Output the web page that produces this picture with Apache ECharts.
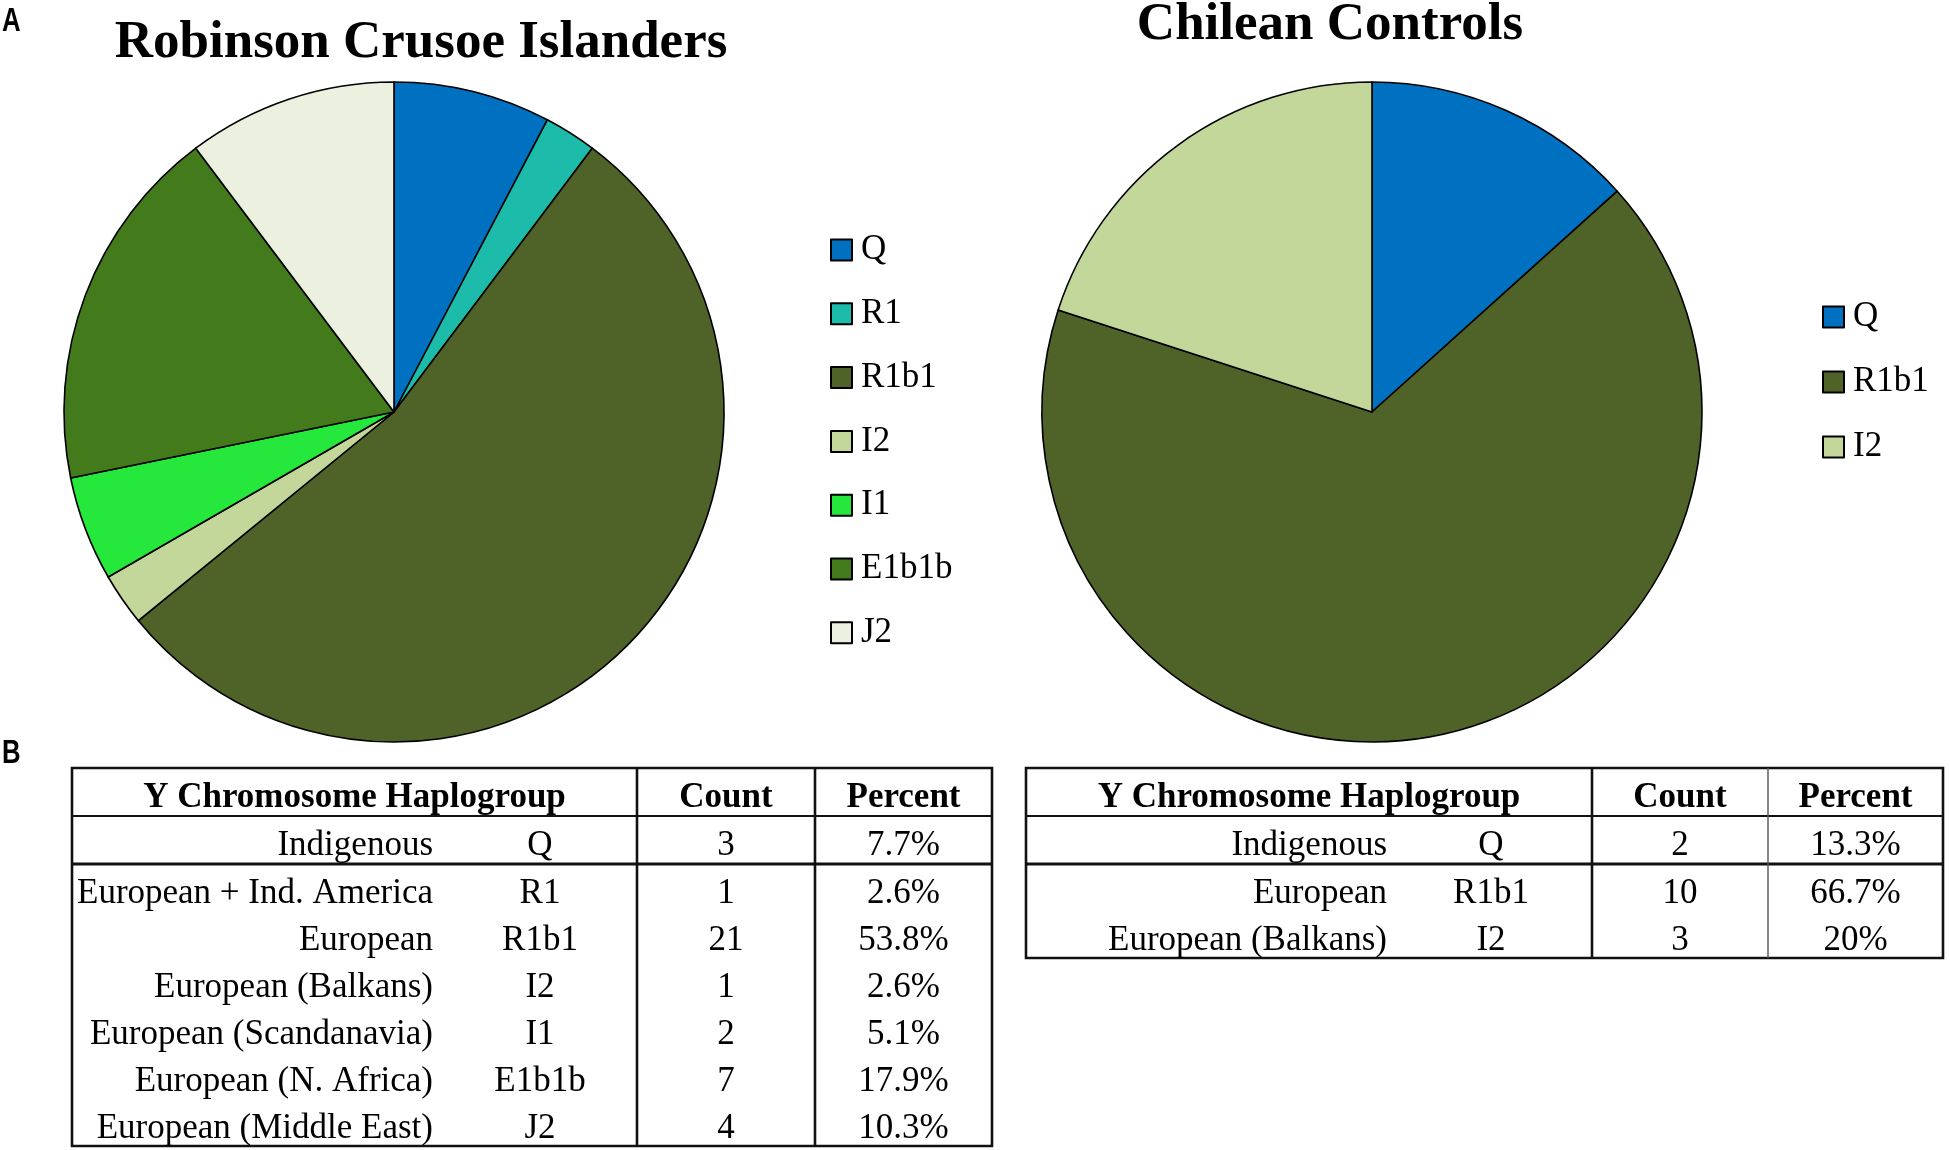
<!DOCTYPE html>
<html>
<head>
<meta charset="utf-8">
<script src="https://cdn.jsdelivr.net/npm/echarts@6/dist/echarts.min.js"></script>
<style>
  html, body { margin: 0; padding: 0; background: #fff; }
  #chart { width: 1950px; height: 1150px; }
</style>
</head>
<body>
<div id="chart"></div>
<script>
// ---------- Data ----------
const rciTitle = 'Robinson Crusoe Islanders';
const ccTitle = 'Chilean Controls';

const rciNames   = ['Q', 'R1', 'R1b1', 'I2', 'I1', 'E1b1b', 'J2'];
const rciCounts  = [3, 1, 21, 1, 2, 7, 4];
const rciPercent = ['7.7%', '2.6%', '53.8%', '2.6%', '5.1%', '17.9%', '10.3%'];
const rciOrigin  = ['Indigenous', 'European + Ind. America', 'European', 'European (Balkans)',
                    'European (Scandanavia)', 'European (N. Africa)', 'European (Middle East)'];

const ccNames   = ['Q', 'R1b1', 'I2'];
const ccCounts  = [2, 10, 3];
const ccPercent = ['13.3%', '66.7%', '20%'];
const ccOrigin  = ['Indigenous', 'European', 'European (Balkans)'];

const tableHeaders = ['Y Chromosome Haplogroup', 'Count', 'Percent'];

const groupColors = {
  'Q': '#0070C0',
  'R1': '#1CBBAA',
  'R1b1': '#4F6228',
  'I2': '#C4D79B',
  'I1': '#26E83C',
  'E1b1b': '#437A1C',
  'J2': '#EBF1DE'
};

// ---------- Styles ----------
const SERIF = "'Liberation Serif', 'Times New Roman', serif";
const SANS = "'Liberation Sans', Arial, sans-serif";

function pieData(names, counts) {
  return names.map((n, i) => ({ name: n, value: counts[i], itemStyle: { color: groupColors[n] } }));
}

// ---------- Tables (graphic) ----------
function buildTable(cfg, origin, names, counts, percents) {
  const els = [];
  const { x0, c1, c2, x1, yTop, headH, rowH } = cfg;
  const nRows = names.length;
  const yHead = yTop + headH;
  const yInd = yHead + headH;
  const yBot = yInd + (nRows - 1) * rowH;
  const lineStyle = (w, c) => ({ stroke: c || '#111', lineWidth: w });
  const dy = 6;
  els.push({ type: 'rect', shape: { x: x0, y: yTop, width: x1 - x0, height: yBot - yTop },
             style: { fill: 'none', stroke: '#111', lineWidth: 2.6 }, z: 10 });
  els.push({ type: 'line', shape: { x1: x0, y1: yHead, x2: x1, y2: yHead }, style: lineStyle(2.2), z: 10 });
  els.push({ type: 'line', shape: { x1: x0, y1: yInd, x2: x1, y2: yInd }, style: lineStyle(3), z: 10 });
  els.push({ type: 'line', shape: { x1: c1, y1: yTop, x2: c1, y2: yBot }, style: lineStyle(2.6), z: 10 });
  els.push({ type: 'line', shape: { x1: c2, y1: yTop, x2: c2, y2: yBot },
             style: lineStyle(cfg.c2Width || 2.6, cfg.c2Color || '#111'), z: 10 });
  const hy = yTop + headH / 2 + dy;
  const hdrX = [(x0 + c1) / 2, (c1 + c2) / 2, (c2 + x1) / 2];
  tableHeaders.forEach((h, i) => {
    els.push({ type: 'text', x: hdrX[i], y: hy, z: 11,
      style: { text: h, font: 'bold 35px ' + SERIF, fill: '#000', align: 'center', verticalAlign: 'middle' } });
  });
  for (let i = 0; i < nRows; i++) {
    const cy = i === 0 ? (yHead + headH / 2 + dy) : (yInd + (i - 1) * rowH + rowH / 2 + dy);
    const font = '35px ' + SERIF;
    els.push({ type: 'text', x: x0 + cfg.labelRight, y: cy, z: 11,
      style: { text: origin[i], font, fill: '#000', align: 'right', verticalAlign: 'middle' } });
    els.push({ type: 'text', x: x0 + cfg.hapCenter, y: cy, z: 11,
      style: { text: names[i], font, fill: '#000', align: 'center', verticalAlign: 'middle' } });
    els.push({ type: 'text', x: hdrX[1], y: cy, z: 11,
      style: { text: String(counts[i]), font, fill: '#000', align: 'center', verticalAlign: 'middle' } });
    els.push({ type: 'text', x: hdrX[2], y: cy, z: 11,
      style: { text: percents[i], font, fill: '#000', align: 'center', verticalAlign: 'middle' } });
  }
  return els;
}

const leftTable = buildTable({ x0: 72, c1: 637, c2: 815, x1: 992, yTop: 768, headH: 48, rowH: 47,
                               labelRight: 361, hapCenter: 468 },
                             rciOrigin, rciNames, rciCounts, rciPercent);
const rightTable = buildTable({ x0: 1026, c1: 1592, c2: 1768, x1: 1943, yTop: 768, headH: 48, rowH: 47,
                                labelRight: 361, hapCenter: 465, c2Width: 1.4, c2Color: '#555' },
                              ccOrigin, ccNames, ccCounts, ccPercent);

const titleEls = [
  { type: 'text', x: 2, y: 22, scaleX: 0.78, style: { text: 'A', font: 'bold 33px ' + SANS, fill: '#000', align: 'left', verticalAlign: 'middle' } },
  { type: 'text', x: 2, y: 754, scaleX: 0.78, style: { text: 'B', font: 'bold 33px ' + SANS, fill: '#000', align: 'left', verticalAlign: 'middle' } },
  { type: 'text', x: 421, y: 43, style: { text: rciTitle, font: 'bold 53px ' + SERIF, fill: '#000', align: 'center', verticalAlign: 'middle' } },
  { type: 'text', x: 1330, y: 25, style: { text: ccTitle, font: 'bold 53px ' + SERIF, fill: '#000', align: 'center', verticalAlign: 'middle' } }
];

const chart = echarts.init(document.getElementById('chart'));
const legendCommon = {
  orient: 'vertical',
  icon: 'rect',
  padding: 0,
  itemWidth: 21,
  itemHeight: 21,
  selectedMode: false,
  itemStyle: { borderColor: '#000', borderWidth: 2 },
  textStyle: { fontFamily: SERIF, fontSize: 35, color: '#000', lineHeight: 40, padding: [0, 0, 0, 4] }
};
chart.setOption({
  animation: false,
  backgroundColor: '#fff',
  legend: [
    Object.assign({}, legendCommon, { data: rciNames, left: 830, top: 230, itemGap: 23.8 }),
    Object.assign({}, legendCommon, { data: ccNames, left: 1822, top: 297, itemGap: 25 })
  ],
  series: [
    {
      type: 'pie', name: rciTitle,
      center: [394, 412], radius: 330,
      startAngle: 90, clockwise: true,
      label: { show: false }, labelLine: { show: false },
      emphasis: { disabled: true },
      itemStyle: { borderColor: '#000', borderWidth: 1.6 },
      data: pieData(rciNames, rciCounts)
    },
    {
      type: 'pie', name: ccTitle,
      center: [1372, 412], radius: 330,
      startAngle: 90, clockwise: true,
      label: { show: false }, labelLine: { show: false },
      emphasis: { disabled: true },
      itemStyle: { borderColor: '#000', borderWidth: 1.6 },
      data: pieData(ccNames, ccCounts)
    }
  ],
  graphic: { elements: titleEls.concat(leftTable, rightTable) }
});
</script>
</body>
</html>
